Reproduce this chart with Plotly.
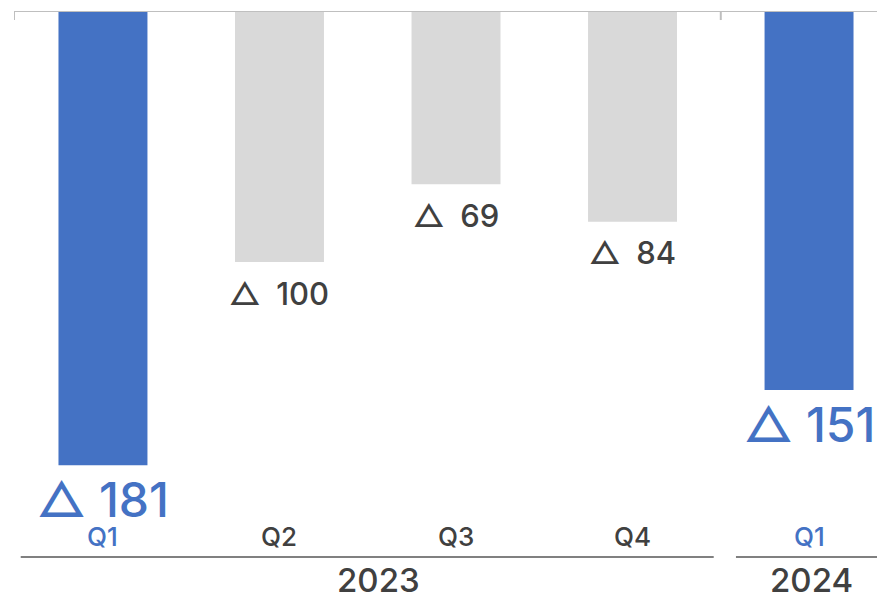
import plotly.graph_objects as go

quarters = ["Q1", "Q2", "Q3", "Q4", "Q1"]
years = ["2023", "2023", "2023", "2023", "2024"]
values = [-181, -100, -69, -84, -151]
highlight = [True, False, False, False, True]
labels = ["△ 181", "△ 100", "△ 69", "△ 84", "△ 151"]

BLUE = "#4472C4"
GRAY = "#D9D9D9"
DARK = "#404040"
FONT = "Inter, DejaVu Sans"

x = list(range(len(values)))
bar_colors = [BLUE if h else GRAY for h in highlight]
text_colors = [BLUE if h else DARK for h in highlight]

fig = go.Figure()
fig.add_trace(go.Bar(
    x=x, y=values, width=0.504,
    marker=dict(color=bar_colors, line=dict(width=0)),
    hoverinfo="skip",
))

annotations = []
for i, (v, lab) in enumerate(zip(values, labels)):
    big = highlight[i]
    annotations.append(dict(x=i, y=v, xref="x", yref="y",
                            text=lab if big else lab.replace(" ", "\u2002"),
                            showarrow=False, yanchor="middle",
                            yshift=-34 if big else -31,
                            font=dict(family=FONT, size=48 if big else 31,
                                      color=text_colors[i], weight=500)))
for i, q in enumerate(quarters):
    annotations.append(dict(x=i, y=0, xref="x", yref="paper", text=q,
                            showarrow=False, yanchor="middle", yshift=21,
                            font=dict(family=FONT, size=26, color=text_colors[i], weight=500)))

# year groups
groups = {}
for i, yv in enumerate(years):
    groups.setdefault(yv, []).append(i)
shapes = []
for yv, idx in groups.items():
    c = (idx[0] + idx[-1]) / 2
    multi = len(idx) > 1
    annotations.append(dict(x=c, y=0, xref="x", yref="paper", text=yv,
                            showarrow=False, yanchor="middle", yshift=-23,
                            xshift=11 if multi else 2,
                            font=dict(family=FONT, size=33, color=DARK, weight=500)))
    shapes.append(dict(type="line", xref="x", yref="paper",
                       x0=idx[0] - (0.466 if multi else 0.414),
                       x1=idx[-1] + (0.46 if multi else 0.6),
                       y0=0, y1=0, line=dict(color="#808080", width=2)))

# top axis line with ticks
shapes.append(dict(type="line", xref="paper", yref="y", x0=0, x1=1, y0=0, y1=0,
                   line=dict(color="#BFBFBF", width=2)))
for xv in [-0.504, 3.5]:
    shapes.append(dict(type="line", xref="x", yref="y", x0=xv, x1=xv, y0=0, y1=-3.6,
                       line=dict(color="#BFBFBF", width=2)))

fig.update_layout(
    width=877, height=607,
    margin=dict(l=14, r=0, t=11, b=50),
    paper_bgcolor="white", plot_bgcolor="white",
    showlegend=False,
    xaxis=dict(range=[-0.504, 4.385], showticklabels=False, showgrid=False,
               zeroline=False, showline=False, fixedrange=True),
    yaxis=dict(range=[-217.5, 0], showticklabels=False, showgrid=False,
               zeroline=False, showline=False, fixedrange=True),
    annotations=annotations, shapes=shapes,
    font=dict(family=FONT),
)

fig.write_html("out.html")
